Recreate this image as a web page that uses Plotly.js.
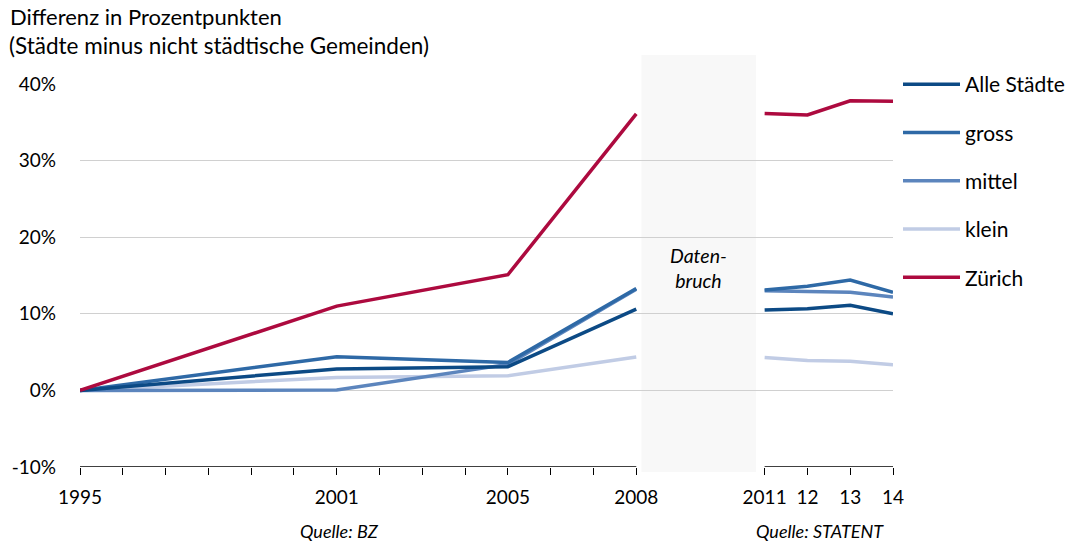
<!DOCTYPE html>
<html>
<head>
<meta charset="utf-8">
<script src="https://cdn.plot.ly/plotly-3.0.1.min.js"></script>
<style>html,body{margin:0;padding:0;background:#fff;}#chart{width:1070px;height:544px;}</style>
</head>
<body>
<div id="chart"></div>
<script>
// Data
const years = [1995, 2001, 2005, 2008, 2009, 2011, 2012, 2013, 2014];
const alleStaedte = [0, 2.8, 3.1, 10.6, null, 10.5, 10.65, 11.1, 10.0];
const gross = [0, 4.4, 3.65, 13.3, null, 13.1, 13.6, 14.4, 12.8];
const mittel = [0, 0.05, 3.4, 13.2, null, 13.0, 12.85, 12.8, 12.2];
const klein = [0, 1.7, 1.9, 4.35, null, 4.3, 3.9, 3.8, 3.35];
const zuerich = [0, 11.0, 15.1, 36.1, null, 36.15, 35.95, 37.8, 37.75];

const tickVals = [1995,1996,1997,1998,1999,2000,2001,2002,2003,2004,2005,2006,2007,2008,2011,2012,2013,2014];
const tickText = ['1995','','','','','','2001','','','','2005','','','2008','2011','12','13','14'];
const yTickVals = [-10, 0, 10, 20, 30, 40];
const yTickText = ['-10%', '0%', '10%', '20%', '30%', '40%'];

const FONT = 'Lato, "Open Sans", sans-serif';

function tr(name, y, color, rank) {
  return {
    x: years, y: y, name: name, type: 'scatter', mode: 'lines',
    connectgaps: false, legendrank: rank, legendgroup: name,
    line: {color: color, width: 3.5}, hoverinfo: 'skip'
  };
}

const data = [
  tr('klein', klein, '#c1cce5', 4),
  tr('mittel', mittel, '#5c85bd', 3),
  tr('gross', gross, '#2e69a6', 2),
  tr('Alle Städte', alleStaedte, '#0c4a85', 1),
  tr('Zürich', zuerich, '#ad0a3f', 5)
];

const layout = {
  width: 1070, height: 544,
  margin: {l: 80, r: 177, t: 84, b: 77, autoexpand: false},
  paper_bgcolor: '#ffffff', plot_bgcolor: '#ffffff',
  font: {family: FONT, size: 19, color: '#000'},
  title: {
    text: 'Differenz in Prozentpunkten',
    x: 10/1070, xanchor: 'left', xref: 'container',
    y: 1 - 17/544, yanchor: 'middle', yref: 'container',
    font: {family: FONT, size: 22, color: '#000'}
  },
  showlegend: true,
  legend: {
    xref: 'container', yref: 'container',
    x: 898/1070, xanchor: 'left', y: 1 - 64/544, yanchor: 'top',
    font: {family: FONT, size: 21, color: '#000'},
    tracegroupgap: 18, itemwidth: 57, bgcolor: 'rgba(0,0,0,0)',
    traceorder: 'grouped'
  },
  xaxis: {
    range: [1995, 2014], type: 'linear',
    tickmode: 'array', tickvals: tickVals, ticktext: tickText,
    ticks: 'outside', ticklen: 7, tickwidth: 1, tickcolor: '#000',
    showgrid: false, zeroline: false, showline: false,
    ticklabelstandoff: 6,
    tickfont: {family: FONT, size: 19, color: '#000'},
    fixedrange: true
  },
  yaxis: {
    range: [-10, 40],
    tickmode: 'array', tickvals: yTickVals, ticktext: yTickText,
    showgrid: true, gridcolor: '#d0d0d0', gridwidth: 1.3,
    zeroline: false, showline: false, ticks: '',
    ticklabelstandoff: 23,
    tickfont: {family: FONT, size: 19, color: '#000'},
    fixedrange: true
  },
  shapes: [
    // white cover over gridlines around the data break
    {type: 'rect', xref: 'x', yref: 'paper', x0: 2008, x1: 2010.93, y0: -0.01, y1: 1.08,
     fillcolor: '#ffffff', line: {width: 0}, layer: 'between'},
    // grey data-break band
    {type: 'rect', xref: 'x', yref: 'paper', x0: 2008.12, x1: 2010.8, y0: -0.013, y1: 1.076,
     fillcolor: '#f8f8f8', line: {width: 0}, layer: 'between'},
    // bottom axis lines
    {type: 'line', xref: 'x', yref: 'y', x0: 1995, x1: 2008, y0: -10, y1: -10,
     line: {color: '#000', width: 1.3}, layer: 'above'},
    {type: 'line', xref: 'x', yref: 'y', x0: 2011, x1: 2014, y0: -10, y1: -10,
     line: {color: '#000', width: 1.3}, layer: 'above'}
  ],
  annotations: [
    {text: '(Städte minus nicht städtische Gemeinden)', xref: 'paper', yref: 'paper',
     x: -73/813, xanchor: 'left', y: 1 + 38/383, yanchor: 'middle',
     showarrow: false, font: {family: FONT, size: 22.5, color: '#000'}},
    {text: '<i>Daten-<br>bruch</i>', xref: 'x', yref: 'y', x: 2009.46, y: 16.0,
     showarrow: false, font: {family: FONT, size: 19.5, color: '#000'}, align: 'center'},
    {text: '<i>Quelle: BZ</i>', xref: 'x', yref: 'paper', x: 2001.07, y: -0.167, yanchor: 'middle',
     showarrow: false, font: {family: FONT, size: 18, color: '#000'}},
    {text: '<i>Quelle: STATENT</i>', xref: 'x', yref: 'paper', x: 2012.3, y: -0.167, yanchor: 'middle',
     showarrow: false, font: {family: FONT, size: 18, color: '#000'}}
  ]
};

Plotly.newPlot('chart', data, layout, {displayModeBar: false, staticPlot: true});
</script>
</body>
</html>
